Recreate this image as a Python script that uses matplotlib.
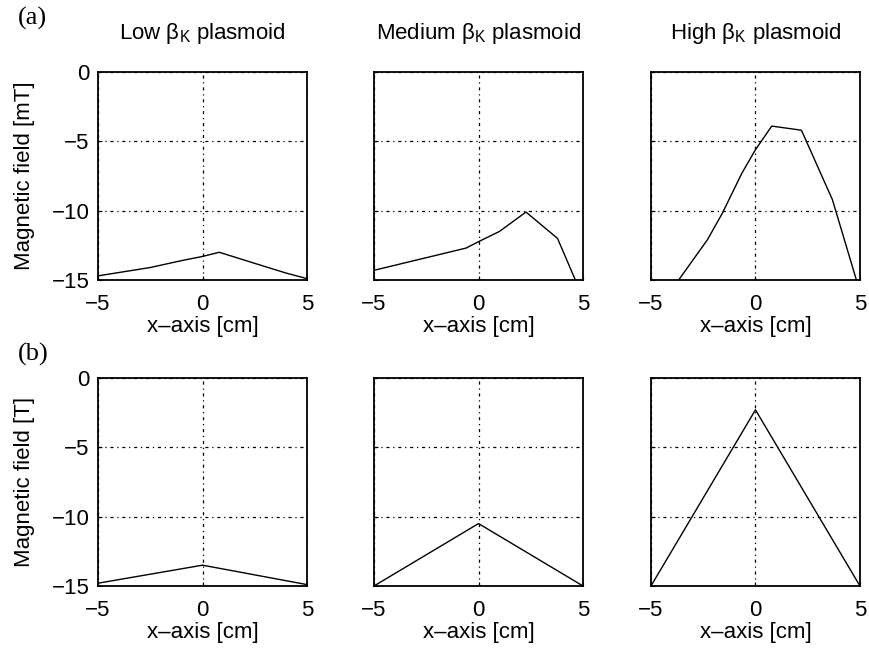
import matplotlib
matplotlib.use("Agg")
import matplotlib.pyplot as plt

plt.rcParams['font.family'] = ['Liberation Sans', 'DejaVu Sans']
plt.rcParams['mathtext.fontset'] = 'custom'
plt.rcParams['mathtext.rm'] = 'Liberation Sans'
plt.rcParams['mathtext.it'] = 'Liberation Sans'
plt.rcParams['mathtext.default'] = 'regular'

# (a) measured profiles [mT]
low_x = [-5, -2.5, -1, 0, 0.8, 2.5, 4, 5]
low_y = [-14.7, -14.1, -13.6, -13.3, -13.0, -13.8, -14.5, -14.9]
med_x = [-5, -0.6, 0.05, 1.0, 2.27, 3.78, 4.62, 5]
med_y = [-14.3, -12.7, -12.2, -11.5, -10.1, -12.0, -14.95, -16.2]
high_x = [-5, -3.71, -2.3, -1.59, -0.65, 0.0, 0.78, 2.2, 3.68, 4.82, 5]
high_y = [-17.0, -15.07, -12.1, -10.2, -7.3, -5.6, -3.9, -4.2, -9.2, -14.95, -15.4]

# (b) model profiles [T]
model_x = [-5, 0, 5]
model_low = [-14.8, -13.5, -14.9]
model_med = [-15.0, -10.5, -15.0]
model_high = [-15.0, -2.3, -15.0]

titles = ['Low $\\beta_K$ plasmoid', 'Medium $\\beta_K$ plasmoid', 'High $\\beta_K$ plasmoid']
xticks = [-5, 0, 5]
yticks = [0, -5, -10, -15]

fig = plt.figure(figsize=(8.69, 6.64), dpi=100)
lefts = [0.1128, 0.4304, 0.7491]
w, h = 0.2405, 0.3133
bottoms = [0.5783, 0.1175]

top_data = [(low_x, low_y), (med_x, med_y), (high_x, high_y)]
bot_data = [(model_x, model_low), (model_x, model_med), (model_x, model_high)]
grid_ls = (0, (2.5, 3, 1, 3))
fs = 16

for row, (bottom, data) in enumerate(zip(bottoms, [top_data, bot_data])):
    for col, (xs, ys) in enumerate(data):
        ax = fig.add_axes([lefts[col], bottom, w, h])
        ax.plot(xs, ys, color='black', lw=1.0)
        ax.set_xlim(-5, 5)
        ax.set_ylim(-15, 0)
        ax.set_xticks(xticks)
        ax.set_yticks(yticks)
        ax.grid(True, color='black', lw=0.9, linestyle=grid_ls)
        ax.tick_params(direction='in', length=3, labelsize=fs)
        ax.tick_params(axis='x', pad=10)
        ax.tick_params(axis='y', pad=6)
        for s in ax.spines.values():
            s.set_linewidth(1.3)
        ax.set_xlabel('x\u2013axis [cm]', fontsize=fs, labelpad=1)
        if col > 0:
            ax.set_yticklabels([])
        else:
            ax.set_ylabel('Magnetic field [mT]' if row == 0 else 'Magnetic field [T]',
                          fontsize=fs)
            ax.yaxis.set_label_coords(-0.30, 0.5)
        if row == 0:
            ax.set_title(titles[col], fontsize=fs, pad=24)

serif = ['Liberation Serif', 'DejaVu Serif']
fig.text(0.02, 0.972, '(a)', fontsize=19, family=serif, va='center')
fig.text(0.02, 0.466, '(b)', fontsize=19, family=serif, va='center')

fig.savefig('out.png', dpi=100)
